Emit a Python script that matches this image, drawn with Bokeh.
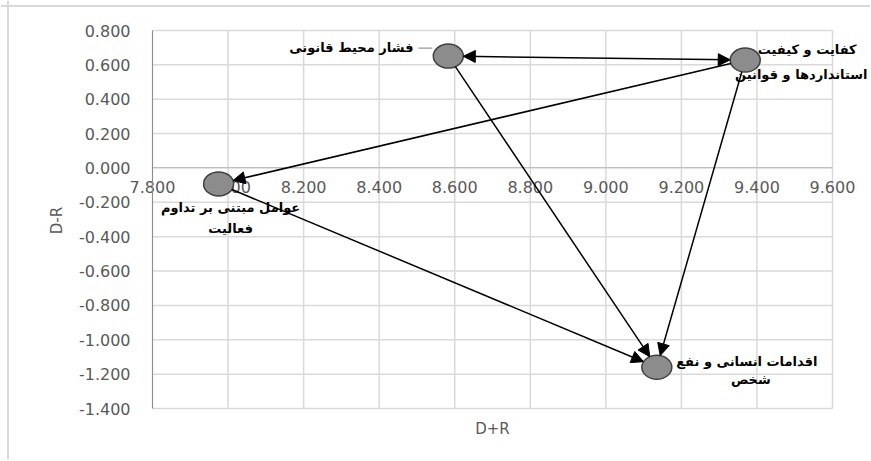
import math
from bokeh.plotting import figure
from bokeh.models import (ColumnDataSource, Range1d, LinearAxis, FixedTicker,
                          NumeralTickFormatter, Arrow, NormalHead, LabelSet,
                          Label, Span)
from bokeh.core.properties import value
from bokeh.embed import file_html
from bokeh.resources import INLINE

# ---- data ----
factor_names = [
    "فشار محیط قانونی",
    "کفایت و کیفیت\nاستانداردها و قوانین",
    "عوامل مبتنی بر تداوم\nفعالیت",
    "اقدامات انسانی و نفع\nشخص",
]
d_plus_r = [8.583, 9.369, 7.975, 9.135]
d_minus_r = [0.651, 0.628, -0.093, -1.160]

x_ticks = [7.8, 8.0, 8.2, 8.4, 8.6, 8.8, 9.0, 9.2, 9.4, 9.6]
y_ticks = [-1.4, -1.2, -1.0, -0.8, -0.6, -0.4, -0.2, 0.0, 0.2, 0.4, 0.6, 0.8]

link_from = [0, 1, 0, 1, 2]
link_to = [1, 2, 3, 3, 3]
link_both = [True, False, False, False, False]

x_title = "D+R"
y_title = "D-R"

# label line offsets (screen px) relative to each point, one pair per text line
label_dx = [[-97], [62, 56], [12, 12], [90, 94]]
label_dy = [[9], [11, -14], [-24, -45], [6, -12]]

# ---- layout (picture pixels) ----
X0, X1 = x_ticks[0], x_ticks[-1]
Y0, Y1 = y_ticks[0], y_ticks[-1]
CAN_W, CAN_H = 870, 459
PA_L, PA_R, PA_T, PA_B = 152, 832, 30, 408
RX, RY = 15, 12

sx = (PA_R - PA_L) / (X1 - X0)
sy = (PA_B - PA_T) / (Y1 - Y0)


def px2x(px):
    return X0 + (px - PA_L) / sx


def py2y(py):
    return Y1 - (py - PA_T) / sy


p = figure(width=CAN_W, height=CAN_H,
           x_range=Range1d(px2x(0), px2x(CAN_W)),
           y_range=Range1d(py2y(CAN_H), py2y(0)),
           x_axis_location=None, y_axis_location=None,
           output_backend="svg", toolbar_location=None,
           min_border=0, background_fill_color="white",
           border_fill_color="white", outline_line_color=None)
p.xgrid.visible = False
p.ygrid.visible = False

grey_txt = "#595959"

# outer chart border (left, top)
p.add_layout(Span(location=px2x(7.5), dimension="height",
                  line_color="#d9d9d9", line_width=2))
p.add_layout(Span(location=py2y(5.5), dimension="width",
                  line_color="#d9d9d9", line_width=2))

# gridlines of the plot area
p.segment(x0=x_ticks, y0=[Y0] * len(x_ticks), x1=x_ticks, y1=[Y1] * len(x_ticks),
          line_color="#d9d9d9", line_width=1.5, level="underlay")
p.segment(x0=[X0] * len(y_ticks), y0=y_ticks, x1=[X1] * len(y_ticks), y1=y_ticks,
          line_color="#d9d9d9", line_width=1.5, level="underlay")

# y axis at x = 7.8
ya = LinearAxis(fixed_location=X0, bounds=(Y0, Y1), ticker=FixedTicker(ticks=y_ticks),
                formatter=NumeralTickFormatter(format="0.000"),
                axis_line_color="#8c8c8c", major_tick_out=0, major_tick_in=0,
                minor_tick_out=0, minor_tick_in=0, major_label_standoff=22,
                major_label_text_font="DejaVu Sans", major_label_text_font_size="16px",
                major_label_text_color=grey_txt)
p.add_layout(ya, "left")

# x axis crossing at y = 0
xa = LinearAxis(fixed_location=0, bounds=(X0, X1), ticker=FixedTicker(ticks=x_ticks),
                formatter=NumeralTickFormatter(format="0.000"),
                axis_line_color="#bfbfbf", major_tick_out=0, major_tick_in=0,
                minor_tick_out=0, minor_tick_in=0, major_label_standoff=13,
                major_label_text_font="DejaVu Sans", major_label_text_font_size="16px",
                major_label_text_color=grey_txt, level="underlay")
p.add_layout(xa, "below")

# axis titles
p.add_layout(Label(x=px2x(56), y=py2y(220), text=y_title, angle=math.pi / 2,
                   text_align="center", text_baseline="middle",
                   text_font="DejaVu Sans", text_font_size="15px",
                   text_color=grey_txt))
p.add_layout(Label(x=(X0 + X1) / 2, y=py2y(428), text=x_title,
                   text_align="center", text_baseline="middle",
                   text_font="DejaVu Sans", text_font_size="15px",
                   text_color=grey_txt))

# arrows
for i, j, both in zip(link_from, link_to, link_both):
    dxp = (d_plus_r[j] - d_plus_r[i]) * sx
    dyp = (d_minus_r[j] - d_minus_r[i]) * sy
    L = math.hypot(dxp, dyp)
    ux, uy = dxp / L, dyp / L
    t = 1.0 / math.sqrt((ux / RX) ** 2 + (uy / RY) ** 2)
    xs = d_plus_r[i] + ux * t / sx
    ys = d_minus_r[i] + uy * t / sy
    xe = d_plus_r[j] - ux * t / sx
    ye = d_minus_r[j] - uy * t / sy
    head = dict(size=12, fill_color="black", line_color="black")
    p.add_layout(Arrow(x_start=xs, y_start=ys, x_end=xe, y_end=ye,
                       end=NormalHead(**head),
                       start=NormalHead(**head) if both else None,
                       line_color="black", line_width=1.5))

# leader line of the first data label
p.segment(x0=[d_plus_r[0] - 30 / sx], y0=[d_minus_r[0] + 8 / sy],
          x1=[d_plus_r[0] - 16 / sx], y1=[d_minus_r[0] + 8 / sy],
          line_color="#7f7f7f", line_width=1)

nodes = ColumnDataSource(dict(x=d_plus_r, y=d_minus_r))
p.ellipse("x", "y", width=2 * RX, height=2 * RY, width_units="screen",
          height_units="screen", fill_color="#8c8c8c", line_color="#404040",
          line_width=1.5, source=nodes)

# data labels, one entry per text line (centred lines)
lx, ly, lt, ldx, ldy = [], [], [], [], []
for k, name in enumerate(factor_names):
    for line, dx, dy in zip(name.split("\n"), label_dx[k], label_dy[k]):
        lx.append(d_plus_r[k])
        ly.append(d_minus_r[k])
        lt.append(line)
        ldx.append(dx)
        ldy.append(dy)
lab_src = ColumnDataSource(dict(x=lx, y=ly, text=lt, dx=ldx, dy=ldy))
labels = LabelSet(x="x", y="y", text="text", x_offset="dx", y_offset="dy",
                  source=lab_src, text_align="center", text_baseline="middle",
                  text_font=value("DejaVu Sans"), text_font_style="bold",
                  text_font_size="13px", text_color="black")
p.add_layout(labels)

open("out.html", "w").write(file_html(p, INLINE))
